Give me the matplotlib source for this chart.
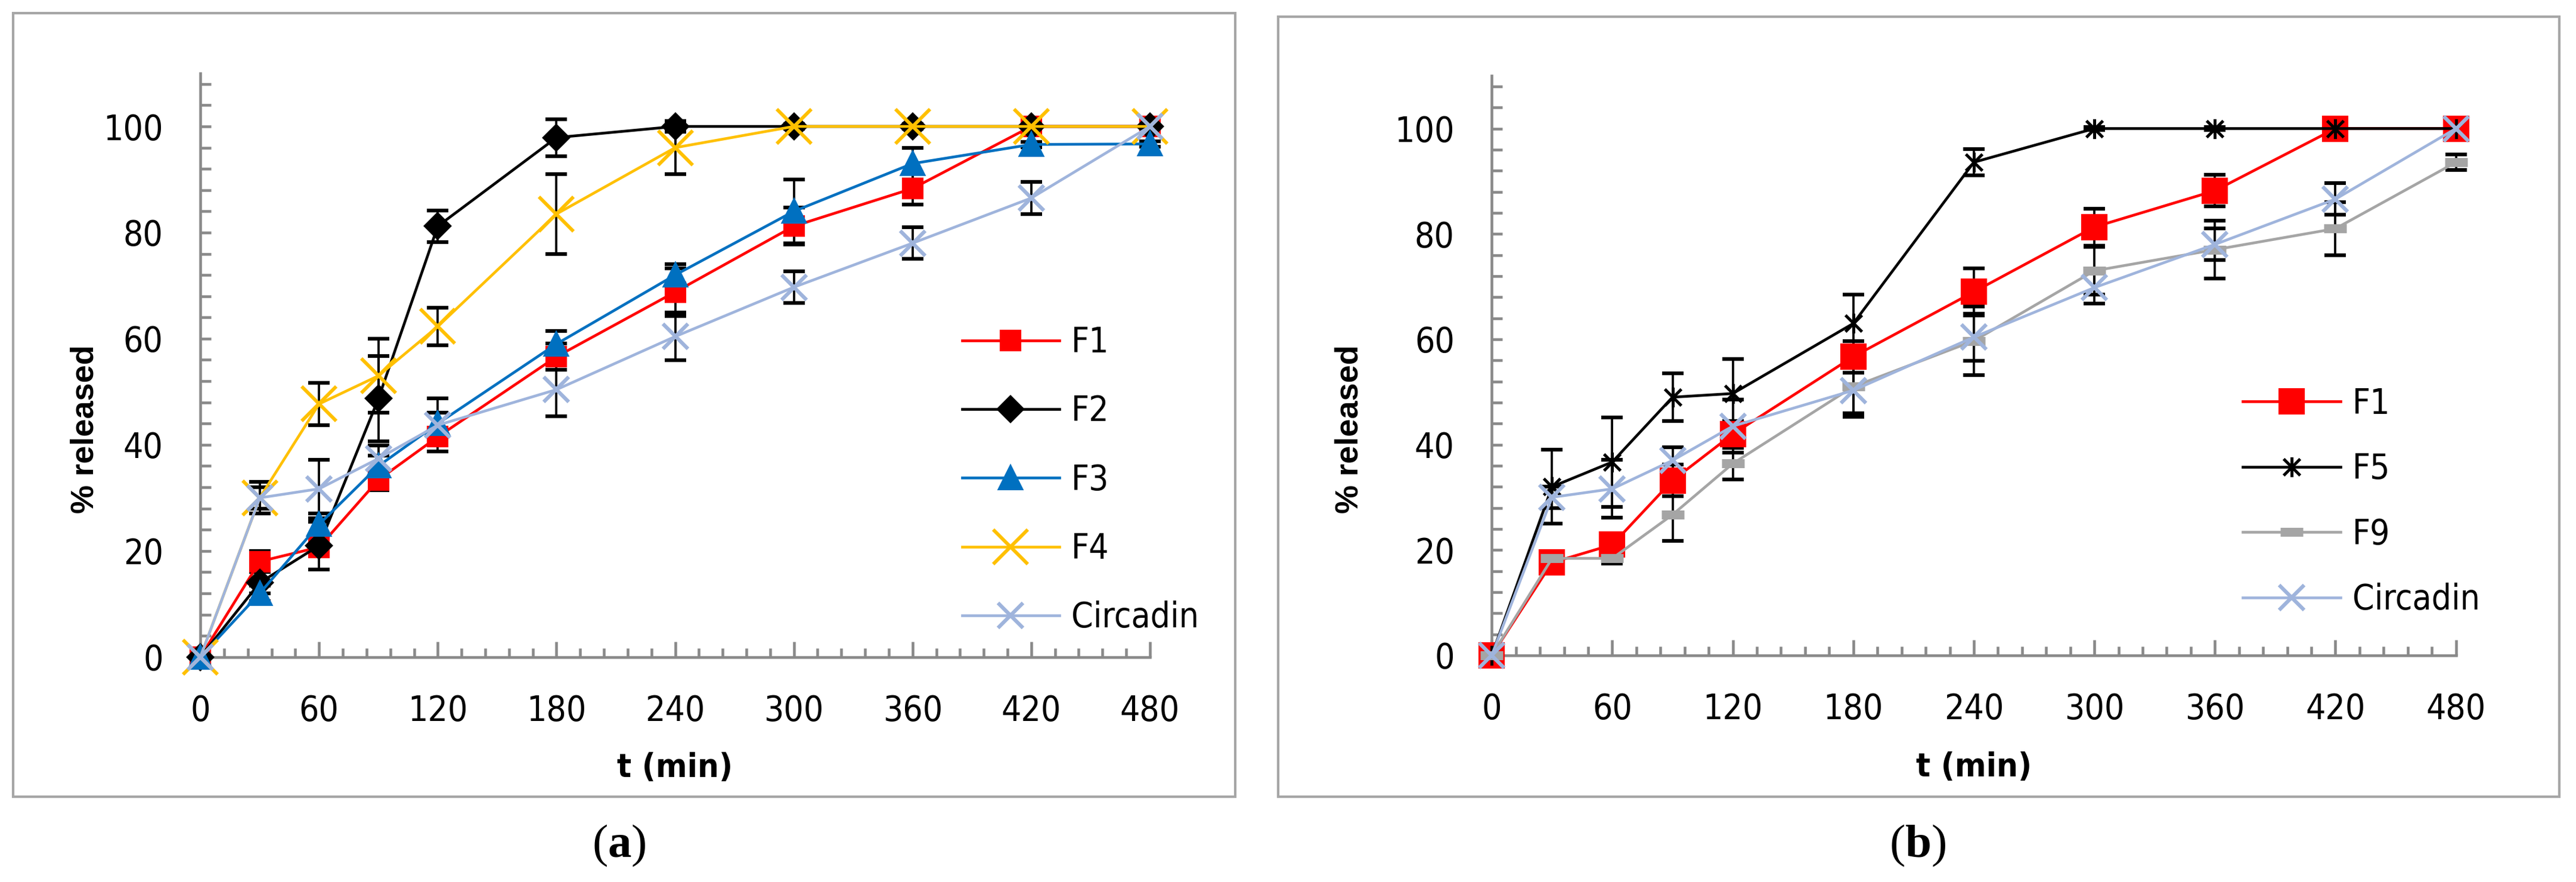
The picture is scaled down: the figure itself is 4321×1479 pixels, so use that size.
import matplotlib
matplotlib.use('Agg')
import matplotlib.pyplot as plt
from matplotlib import font_manager
from matplotlib.patches import Rectangle
from matplotlib.path import Path
from matplotlib.ticker import MultipleLocator


def find_narrow(bold):
    # look for an installed condensed sans face
    for f in font_manager.fontManager.ttflist:
        low = f.fname.lower()
        if not ('narrow' in low or 'condensed' in low) or 'sans' not in low:
            continue
        if 'oblique' in low or 'italic' in low or 'mono' in low:
            continue
        if ('bold' in low) == bold:
            return font_manager.FontProperties(fname=f.fname)
    return None


tick_fp = find_narrow(False)
bold_fp = find_narrow(True)
found = tick_fp is not None
if tick_fp is None:
    tick_fp = font_manager.FontProperties(family='Lato')
if bold_fp is None:
    bold_fp = font_manager.FontProperties(family='Lato', weight='bold')

plt.rcParams['mathtext.fontset'] = 'custom'
plt.rcParams['mathtext.bf'] = 'Liberation Serif:bold'
plt.rcParams['mathtext.rm'] = 'Liberation Serif'

# time points (min)
t = [0, 30, 60, 90, 120, 180, 240, 300, 360, 420, 480]

# panel (a)
f1 = [0, 18, 20.7, 33.4, 41.5, 56.6, 68.8, 81.2, 88.3, 100, 100]
f1_err = [0, 2, 1.5, 2, 1.5, 2.5, 4.5, 3.5, 3, 0.5, 0.5]
f2 = [0, 14, 21, 48.7, 81.2, 97.9, 100, 100, 100, 100, 100]
f2_err = [0, 2, 4.5, 8, 3, 3.5, 1, 0.5, 0.5, 0.5, 0.5]
f3 = [0, 12, 25, 36, 44, 59, 72, 84, 93, 96.6, 96.7]
f3_err = [0, 1.5, 2, 2, 2, 2.5, 2, 6, 3, 0.5, 0.5]
f4 = [0, 30, 47.7, 53, 62.3, 83.5, 96, 100, 100, 100, 100]
f4_err = [0, 3, 4, 7, 3.5, 7.5, 5, 0.5, 0.5, 0.5, 0.5]
circ = [0, 30, 31.7, 37.4, 43.7, 50.4, 60.4, 69.7, 78, 86.5, 100]
circ_err = [0, 2, 5.5, 2.5, 5, 5, 4.5, 3, 3, 3, 0.5]

# panel (b)
b_f1 = [0, 17.6, 21, 33.2, 42, 56.7, 69, 81.3, 88.2, 100, 100]
b_f1_err = [0, 2, 2, 3, 2.5, 3, 4.5, 3.5, 3, 0.5, 0.5]
b_f5 = [0, 32, 36.7, 49, 49.7, 63, 93.6, 100, 100, 100, 100]
b_f5_err = [0, 7, 8.5, 4.5, 6.5, 5.5, 2.5, 0.3, 0.3, 0.3, 0.3]
b_f9 = [0, 18.4, 18.4, 26.7, 36.4, 51, 59.7, 73, 77, 81, 93.6]
b_f9_err = [0, 1, 1, 5, 3, 5, 6.5, 4.5, 5.5, 5, 1.5]
b_circ = [0, 30, 31.6, 37, 43.5, 50.3, 60.4, 69.8, 78, 86.6, 100]
b_circ_err = [0, 2, 5.5, 2.5, 5, 5, 4.5, 3, 3, 3, 0.5]

# Excel style star marker (x plus vertical bar)
star = Path([(-1, -1), (1, 1), (-1, 1), (1, -1), (0, -1.2), (0, 1.2)],
            [Path.MOVETO, Path.LINETO, Path.MOVETO, Path.LINETO, Path.MOVETO, Path.LINETO])

RED = '#FF0000'
BLUE = '#0070C0'
GOLD = '#FFC000'
LBLUE = '#9FB4DC'
GREY = '#A5A5A5'
AXC = '#898989'

TICK_SIZE = 14 if found else 13.5

W, H = 4321, 1479
fig = plt.figure(figsize=(W / 300, H / 300), dpi=300)

ax_a = fig.add_axes([0.0778, 0.2551, 0.3686, 0.6617])
ax_b = fig.add_axes([0.5791, 0.2570, 0.3743, 0.6570])


def series(ax, y, err, label, color, marker, ms, mew=1.0, lw=1.1):
    ax.errorbar(t, y, yerr=err, fmt='none', ecolor='black', elinewidth=0.9,
                capsize=4.3, capthick=1.5, zorder=3, clip_on=False)
    ax.plot(t, y, color=color, lw=lw, marker=marker, markersize=ms,
            markeredgewidth=mew, markerfacecolor=color,
            markeredgecolor=color, label=label, zorder=4, clip_on=False)


def style(ax):
    ax.set_xlim(0, 480)
    ax.set_ylim(0, 110)
    ax.set_xticks(range(0, 481, 60))
    ax.set_yticks(range(0, 101, 20))
    ax.xaxis.set_minor_locator(MultipleLocator(12))
    ax.yaxis.set_minor_locator(MultipleLocator(4))
    for s in ['top', 'right']:
        ax.spines[s].set_visible(False)
    for s in ['left', 'bottom']:
        ax.spines[s].set_color(AXC)
        ax.spines[s].set_linewidth(1.1)
    ax.tick_params(axis='x', which='major', direction='in', length=6.2, width=1.1,
                   color=AXC, pad=15)
    ax.tick_params(axis='x', which='minor', direction='in', length=3.7, width=1.1, color=AXC)
    ax.tick_params(axis='y', which='both', direction='in', length=4.2, width=1.1,
                   color=AXC, pad=15)
    for lab in ax.get_xticklabels() + ax.get_yticklabels():
        lab.set_fontproperties(tick_fp)
        lab.set_fontsize(TICK_SIZE)
    ax.set_ylabel('% released', fontsize=13, fontweight='bold', family='Liberation Sans')
    ax.set_xlabel('t (min)', fontproperties=bold_fp, fontsize=13.5)


def legend(ax, anchor, spacing):
    lp = tick_fp.copy()
    lp.set_size(TICK_SIZE)
    ax.legend(loc='center left', bbox_to_anchor=anchor, frameon=False,
              borderpad=0, borderaxespad=0, handlelength=2.8, handletextpad=0.35,
              labelspacing=spacing, prop=lp)


# panel (a)
series(ax_a, f1, f1_err, 'F1', RED, 's', 7.5)
series(ax_a, f2, f2_err, 'F2', 'black', 'D', 7)
series(ax_a, f3, f3_err, 'F3', BLUE, '^', 9)
series(ax_a, f4, f4_err, 'F4', GOLD, 'x', 14, mew=1.4)
series(ax_a, circ, circ_err, 'Circadin', LBLUE, 'x', 10, mew=1.5)
style(ax_a)
ax_a.yaxis.set_label_coords(-0.106, 0.39)
ax_a.xaxis.set_label_coords(0.50, -0.163)
legend(ax_a, (0.802, 0.303), 1.0)

# panel (b)
series(ax_b, b_f1, b_f1_err, 'F1', RED, 's', 9.5)
series(ax_b, b_f5, b_f5_err, 'F5', 'black', star, 8, mew=1.2)
series(ax_b, b_f9, b_f9_err, 'F9', GREY, '_', 9, mew=3.6)
series(ax_b, b_circ, b_circ_err, 'Circadin', LBLUE, 'x', 10, mew=1.5)
style(ax_b)
ax_b.yaxis.set_label_coords(-0.132, 0.39)
ax_b.xaxis.set_label_coords(0.50, -0.166)
legend(ax_b, (0.779, 0.265), 0.9)

# chart area frames
for x0, y0, x1, y1 in [(0.0051, 0.0968, 0.4796, 0.985), (0.4962, 0.0968, 0.9936, 0.981)]:
    fig.patches.append(Rectangle((x0, y0), x1 - x0, y1 - y0, transform=fig.transFigure,
                                 fill=False, edgecolor='#A6A6A6', linewidth=1.0))

fig.text(0.2404, 0.041, r'($\mathbf{a}$)', ha='center', va='center', fontsize=19,
         family='Liberation Serif')
fig.text(0.7443, 0.041, r'($\mathbf{b}$)', ha='center', va='center', fontsize=19,
         family='Liberation Serif')

fig.savefig('out.png', dpi=300)
